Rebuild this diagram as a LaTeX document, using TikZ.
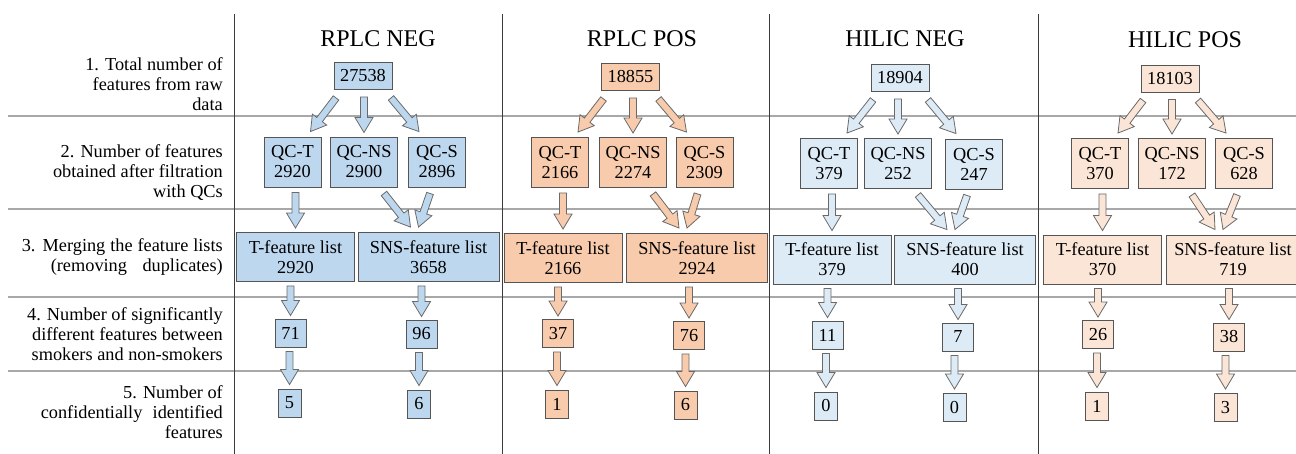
\documentclass[tikz,border=0pt]{standalone}
\usepackage{fontspec}
\setmainfont{Liberation Serif}
\usetikzlibrary{calc}

\definecolor{blueA}{HTML}{BDD7EE}
\definecolor{blueB}{HTML}{DDEBF7}
\definecolor{peachA}{HTML}{F8CBAD}
\definecolor{peachB}{HTML}{FBE5D6}
\definecolor{boxline}{HTML}{555555}
\definecolor{arrline}{HTML}{6A6A6A}
\definecolor{rowline}{HTML}{A8A8A8}
\definecolor{colline}{HTML}{3C3C3C}

\tikzset{
  box/.style={draw=boxline, line width=0.9pt, inner sep=0pt, align=center,
    font=\fontsize{18.3}{20}\selectfont},
  topbox/.style={box, minimum width=58pt, minimum height=27pt},
  qcbox/.style={box, minimum width=57pt, minimum height=50pt},
  qcwide/.style={box, minimum width=67pt, minimum height=50pt},
  tlist/.style={box, minimum width=118pt, minimum height=49pt},
  slist/.style={box, minimum width=141pt, minimum height=49pt},
  sigbox/.style={box, minimum width=31pt, minimum height=28pt},
  idbox/.style={box, minimum width=23pt, minimum height=28pt},
  coltitle/.style={anchor=base, inner sep=0pt, font=\fontsize{24}{28}\selectfont},
  % anchored at the baseline of the last line
  rowlabel/.style={anchor=base east, align=right, inner sep=0pt,
    font=\fontsize{18.3}{20}\selectfont},
  arrowbody/.style={draw=arrline, line width=0.8pt, line join=miter},
  rowrule/.style={draw=rowline, line width=1.3pt},
  colrule/.style={draw=colline, line width=1pt},
}

% block arrow from #1 to #2 filled with #3
\newcommand\blockarrow[3]{%
  \filldraw[arrowbody, fill=#3]
    ($(#1)!3.5pt!90:(#2)$) --
    ($($(#2)!15pt!(#1)$)!3.5pt!90:(#2)$) --
    ($($(#2)!15pt!(#1)$)!9pt!90:(#2)$) --
    (#2) --
    ($($(#2)!15pt!(#1)$)!9pt!-90:(#2)$) --
    ($($(#2)!15pt!(#1)$)!3.5pt!-90:(#2)$) --
    ($(#1)!3.5pt!-90:(#2)$) -- cycle;
}

% all arrows of one column, node names prefixed by #1
\newcommand\columnarrows[2]{%
  \coordinate (#1-a1) at ($(#1-top.south)+(-27,8)$);
  \coordinate (#1-b1) at ($(#1-qct.north)+(18,-5)$);
  \coordinate (#1-a2) at ($(#1-top.south -| #1-qcns.north)+(0,7)$);
  \coordinate (#1-b2) at ($(#1-qcns.north)+(0,-4)$);
  \coordinate (#1-a3) at ($(#1-top.south)+(28,8)$);
  \coordinate (#1-b3) at ($(#1-qcs.north)+(-18,-5)$);
  \coordinate (#1-a4) at ($(#1-qct.south -| #1-tl.north)+(0,5)$);
  \coordinate (#1-b4) at ($(#1-tl.north)+(0,-4)$);
  \coordinate (#1-a5) at ($(#1-qcns.south)+(20,6)$);
  \coordinate (#1-b5) at ($(#1-sl.north)+(-18,-5)$);
  \coordinate (#1-a6) at ($(#1-qcs.south)+(-7,6)$);
  \coordinate (#1-b6) at ($(#1-sl.north)+(-10,-5)$);
  \coordinate (#1-a7) at ($(#1-tl.south -| #1-ts.north)+(0,4)$);
  \coordinate (#1-b7) at ($(#1-ts.north)+(0,-3)$);
  \coordinate (#1-a8) at ($(#1-sl.south -| #1-ss.north)+(0,4)$);
  \coordinate (#1-b8) at ($(#1-ss.north)+(0,-3)$);
  \coordinate (#1-a9) at ($(#1-ts.south -| #1-ti.north)+(0,4)$);
  \coordinate (#1-b9) at ($(#1-ti.north)+(0,-4)$);
  \coordinate (#1-a10) at ($(#1-ss.south -| #1-si.north)+(0,4)$);
  \coordinate (#1-b10) at ($(#1-si.north)+(0,-4)$);
  \blockarrow{#1-a1}{#1-b1}{#2}
  \blockarrow{#1-a2}{#1-b2}{#2}
  \blockarrow{#1-a3}{#1-b3}{#2}
  \blockarrow{#1-a4}{#1-b4}{#2}
  \blockarrow{#1-a5}{#1-b5}{#2}
  \blockarrow{#1-a6}{#1-b6}{#2}
  \blockarrow{#1-a7}{#1-b7}{#2}
  \blockarrow{#1-a8}{#1-b8}{#2}
  \blockarrow{#1-a9}{#1-b9}{#2}
  \blockarrow{#1-a10}{#1-b10}{#2}
}

\begin{document}
\begin{tikzpicture}[x=1pt, y=-1pt]
\useasboundingbox (0,0) rectangle (1296,454);

% table rules
\foreach \yy in {116,209,297,371}
  \draw[rowrule] (8,\yy) -- (1296,\yy);
\foreach \xx in {234,502,769,1038}
  \draw[colrule] (\xx,14) -- (\xx,454);

% step descriptions
\node[rowlabel] (step1) at (223,111) {1. Total number of\\features from raw\\data};
\node[rowlabel] (step2) at (223,198) {2. Number of features\\obtained after filtration\\with QCs};
\node[rowlabel] (step3) at (223,272) {\makebox[201pt][s]{3. Merging the feature lists}\\\makebox[172pt][s]{(removing duplicates)}};
\node[rowlabel] (step4) at (223,360) {4. Number of significantly\\different features between\\smokers and non-smokers};
\node[rowlabel] (step5) at (223,438) {5. Number of\\\makebox[182pt][s]{confidentially identified}\\features};

% RPLC NEG
\node[coltitle] (rn-title) at (378,47) {RPLC NEG};
\node[topbox, fill=blueA] (rn-top) at (363,76) {27538};
\node[qcbox, fill=blueA] (rn-qct) at (292.5,162) {QC-T\\2920};
\node[qcwide, fill=blueA] (rn-qcns) at (364,162) {QC-NS\\2900};
\node[qcbox, fill=blueA] (rn-qcs) at (437,162) {QC-S\\2896};
\node[tlist, fill=blueA] (rn-tl) at (295.5,257) {T-feature list\\2920};
\node[slist, fill=blueA] (rn-sl) at (428.5,257) {SNS-feature list\\3658};
\node[sigbox, fill=blueA] (rn-ts) at (290.5,333) {71};
\node[sigbox, fill=blueA] (rn-ss) at (421.5,334) {96};
\node[idbox, fill=blueA] (rn-ti) at (289.5,403) {5};
\node[idbox, fill=blueA] (rn-si) at (419,404) {6};
\columnarrows{rn}{blueA}

% RPLC POS
\node[coltitle] (rp-title) at (642,47) {RPLC POS};
\node[topbox, fill=peachA] (rp-top) at (630.5,77) {18855};
\node[qcbox, fill=peachA] (rp-qct) at (560,162.5) {QC-T\\2166};
\node[qcwide, fill=peachA] (rp-qcns) at (633,162.5) {QC-NS\\2274};
\node[qcbox, fill=peachA] (rp-qcs) at (704.5,162.5) {QC-S\\2309};
\node[tlist, fill=peachA] (rp-tl) at (563,258) {T-feature list\\2166};
\node[slist, fill=peachA] (rp-sl) at (697,258) {SNS-feature list\\2924};
\node[sigbox, fill=peachA] (rp-ts) at (558,333.5) {37};
\node[sigbox, fill=peachA] (rp-ss) at (689,335.5) {76};
\node[idbox, fill=peachA] (rp-ti) at (557,404) {1};
\node[idbox, fill=peachA] (rp-si) at (685.5,405) {6};
\columnarrows{rp}{peachA}

% HILIC NEG
\node[coltitle] (hn-title) at (905,47) {HILIC NEG};
\node[topbox, fill=blueB] (hn-top) at (900,78) {18904};
\node[qcbox, fill=blueB] (hn-qct) at (829,163.5) {QC-T\\379};
\node[qcwide, fill=blueB] (hn-qcns) at (898,163.5) {QC-NS\\252};
\node[qcbox, fill=blueB] (hn-qcs) at (974,164) {QC-S\\247};
\node[tlist, fill=blueB] (hn-tl) at (832,259.5) {T-feature list\\379};
\node[slist, fill=blueB] (hn-sl) at (965,259.5) {SNS-feature list\\400};
\node[sigbox, fill=blueB] (hn-ts) at (827.5,335) {11};
\node[sigbox, fill=blueB] (hn-ss) at (958,337) {7};
\node[idbox, fill=blueB] (hn-ti) at (826,406) {0};
\node[idbox, fill=blueB] (hn-si) at (954.5,407.5) {0};
\columnarrows{hn}{blueB}

% HILIC POS
\node[coltitle] (hp-title) at (1185,48) {HILIC POS};
\node[topbox, fill=peachB] (hp-top) at (1170,78.5) {18103};
\node[qcbox, fill=peachB] (hp-qct) at (1100,163.5) {QC-T\\370};
\node[qcwide, fill=peachB] (hp-qcns) at (1172,163.5) {QC-NS\\172};
\node[qcbox, fill=peachB] (hp-qcs) at (1244,163.5) {QC-S\\628};
\node[tlist, fill=peachB] (hp-tl) at (1102.5,259.5) {T-feature list\\370};
\node[slist, minimum width=134pt, fill=peachB] (hp-sl) at (1233,259.5) {SNS-feature list\\719};
\node[sigbox, fill=peachB] (hp-ts) at (1098,334.5) {26};
\node[sigbox, fill=peachB] (hp-ss) at (1229,337) {38};
\node[idbox, fill=peachB] (hp-ti) at (1097,406) {1};
\node[idbox, fill=peachB] (hp-si) at (1225.5,407.5) {3};
\columnarrows{hp}{peachB}
\end{tikzpicture}
\end{document}
